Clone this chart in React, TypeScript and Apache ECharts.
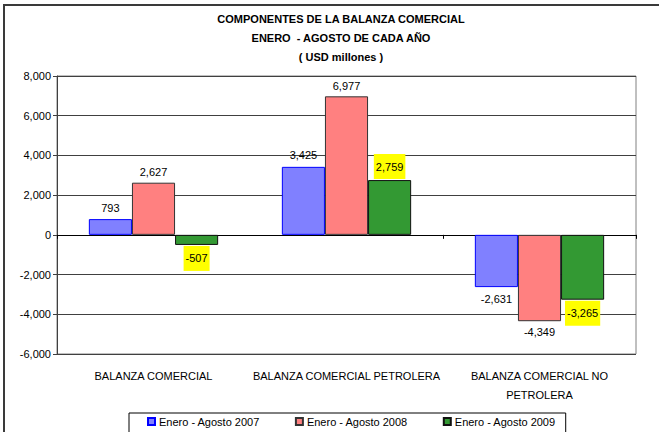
import React, { useEffect, useRef } from "react";
import * as echarts from "echarts";

const categories = [
  "BALANZA COMERCIAL",
  "BALANZA COMERCIAL PETROLERA",
  "BALANZA COMERCIAL NO\nPETROLERA",
];
const seriesNames = ["Enero - Agosto 2007", "Enero - Agosto 2008", "Enero - Agosto 2009"];
const values2007 = [793, 3425, -2631];
const values2008 = [2627, 6977, -4349];
const values2009 = [-507, 2759, -3265];
const titleLines = [
  "COMPONENTES DE LA BALANZA COMERCIAL",
  "ENERO  - AGOSTO DE CADA AÑO",
  "( USD millones )",
];
const yMin = -6000;
const yMax = 8000;
const yStep = 2000;

const FONT = "'Liberation Sans', Arial, sans-serif";
const fmt = (v: number) => v.toLocaleString("en-US");

export default function App() {
  const ref = useRef<HTMLDivElement>(null);
  useEffect(() => {
    if (!ref.current) return;
    const chart = echarts.init(ref.current, null, { renderer: "svg" });

    const mkData = (vals: number[], dist: number) =>
      vals.map((v) => ({
        value: v,
        label: { position: v >= 0 ? "top" : "bottom", distance: dist },
      }));

    const plainLabel = {
      show: true,
      color: "#000",
      fontSize: 11,
      fontFamily: FONT,
      formatter: (p: any) => fmt(p.value),
    };
    const yellowLabel = {
      ...plainLabel,
      backgroundColor: "#FFFF00",
      padding: [7, 2, 7, 2],
    };

    chart.setOption({
      animation: false,
      backgroundColor: "#fff",
      textStyle: { fontFamily: FONT },
      title: {
        text: titleLines.join("\n"),
        left: 336,
        top: 4,
        textAlign: "center",
        textStyle: {
          fontSize: 11,
          fontWeight: "bold",
          color: "#000",
          lineHeight: 19,
          fontFamily: FONT,
        },
      },
      graphic: [
        { type: "line", shape: { x1: 3, y1: 5, x2: 659, y2: 5 }, style: { stroke: "#3a3a3a", lineWidth: 2 } },
        { type: "line", shape: { x1: 4, y1: 4, x2: 4, y2: 432 }, style: { stroke: "#3a3a3a", lineWidth: 2 } },
      ],
      legend: {
        left: 129,
        top: 413,
        data: seriesNames,
        itemWidth: 7,
        itemHeight: 7,
        itemGap: 35,
        padding: [3, 10, 6, 18],
        borderColor: "#000",
        borderWidth: 1,
        icon: "rect",
        textStyle: { fontSize: 11, color: "#000", fontFamily: FONT, padding: [0, 0, 0, -1] },
      },
      grid: {
        left: 57,
        top: 76,
        width: 579,
        height: 278,
        show: true,
        borderColor: "#808080",
        borderWidth: 1,
        backgroundColor: "transparent",
      },
      xAxis: [
        {
          type: "category",
          data: categories,
          position: "bottom",
          axisLine: { show: true, onZero: true, lineStyle: { color: "#000", width: 1 } },
          axisTick: { show: true, length: 4, lineStyle: { color: "#000" } },
          axisLabel: { show: false },
          splitLine: { show: false },
        },
        {
          type: "category",
          data: categories,
          position: "bottom",
          axisLine: { show: false, onZero: false },
          axisTick: { show: false },
          axisLabel: {
            show: true,
            margin: 12,
            fontSize: 11,
            lineHeight: 19,
            color: "#000",
            fontFamily: FONT,
            interval: 0,
          },
        },
      ],
      yAxis: {
        type: "value",
        min: yMin,
        max: yMax,
        interval: yStep,
        axisLine: { show: true, lineStyle: { color: "#404040" } },
        axisTick: { show: true, length: 4, lineStyle: { color: "#404040" } },
        axisLabel: {
          fontSize: 11,
          color: "#000",
          margin: 6,
          fontFamily: FONT,
          formatter: (v: number) => fmt(v),
        },
        splitLine: { show: true, lineStyle: { color: "#404040", width: 1 } },
      },
      series: [
        {
          name: seriesNames[0],
          type: "bar",
          xAxisIndex: 0,
          barGap: "0%",
          barCategoryGap: "33%",
          data: mkData(values2007, 6),
          itemStyle: { color: "#8080FF", borderColor: "#0000FF", borderWidth: 1 },
          label: plainLabel,
        },
        {
          name: seriesNames[1],
          type: "bar",
          xAxisIndex: 0,
          barGap: "0%",
          barCategoryGap: "33%",
          data: mkData(values2008, 5),
          itemStyle: { color: "#FF8080", borderColor: "#333", borderWidth: 1 },
          label: plainLabel,
        },
        {
          name: seriesNames[2],
          type: "bar",
          xAxisIndex: 0,
          barGap: "0%",
          barCategoryGap: "33%",
          data: mkData(values2009, 1),
          itemStyle: { color: "#339933", borderColor: "#111", borderWidth: 1 },
          label: yellowLabel,
        },
      ],
    });
    return () => chart.dispose();
  }, []);
  return (
    <div
      ref={ref}
      style={{ position: "fixed", left: 0, top: 0, width: 659, height: 432, background: "#fff" }}
    />
  );
}
